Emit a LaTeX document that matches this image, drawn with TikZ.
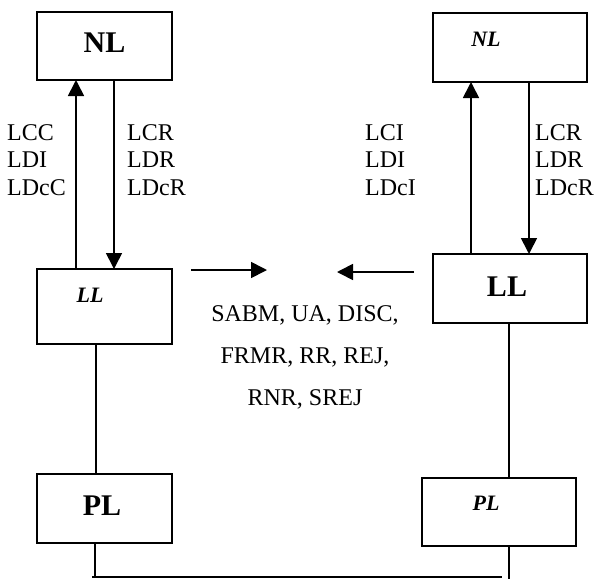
\documentclass[tikz,border=0pt]{standalone}
\usepackage{fontspec}
\setmainfont{Liberation Serif}
\usetikzlibrary{arrows.meta}
\begin{document}
\begin{tikzpicture}[x=1pt,y=-1pt,
  box/.style={draw,line width=1.8pt,inner sep=0pt,outer sep=0pt},
  arr/.style={line width=1.7pt,-{Triangle[length=16pt,width=16pt]}},
  con/.style={line width=1.4pt},
  bigb/.style={font=\fontsize{30}{30}\selectfont\bfseries,inner sep=0pt},
  itb/.style={font=\fontsize{22}{22}\selectfont\bfseries\itshape,inner sep=0pt},
  lab/.style={font=\fontsize{24}{27.5}\selectfont,align=left,inner sep=0pt,anchor=north west},
]
\useasboundingbox (0,0) rectangle (597,579);
% left stack
\node[box,minimum width=135pt,minimum height=68pt] (nlL) at (104.5,46) {};
\node[bigb] (tNLL) at (104.5,43) {NL};
\node[box,minimum width=135pt,minimum height=75pt] (llL) at (104.5,306.5) {};
\node[itb] (tLLL) at (90,295) {LL};
\node[box,minimum width=135pt,minimum height=69pt] (plL) at (104.5,508.5) {};
\node[bigb] (tPLL) at (102,505.5) {PL};
% right stack
\node[box,minimum width=154pt,minimum height=69pt] (nlR) at (510,47.5) {};
\node[itb] (tNLR) at (486,39) {NL};
\node[box,minimum width=154pt,minimum height=69pt] (llR) at (510,288.5) {};
\node[bigb] (tLLR) at (507,287) {LL};
\node[box,minimum width=154pt,minimum height=68pt] (plR) at (499,512) {};
\node[itb] (tPLR) at (486,503) {PL};
% primitives arrows
\draw[arr] ([xshift=39pt]llL.north west) -- ([xshift=39pt]nlL.south west);
\draw[arr] ([xshift=77pt]nlL.south west) -- ([xshift=77pt]llL.north west);
\draw[arr] ([xshift=38pt]llR.north west) -- ([xshift=38pt]nlR.south west);
\draw[arr] ([xshift=96pt]nlR.south west) -- ([xshift=96pt]llR.north west);
% LL-PL links
\draw[con] ([xshift=59pt]llL.south west) -- ([xshift=59pt]plL.north west);
\draw[con] ([xshift=76pt]llR.south west) -- ([xshift=87pt]plR.north west);
% physical medium
\coordinate (hl) at (92,577);
\coordinate (hr) at (502,577);
\draw[con] ([xshift=58pt]plL.south west) -- ++(0,34);
\draw[line width=1.8pt] (hl) -- (hr);
\draw[con] ([xshift=87pt]plR.south west) -- ++(0,33);
% frame arrows
\coordinate (m1) at (191,270);
\coordinate (m2) at (267,270);
\coordinate (m3) at (414,272);
\coordinate (m4) at (337,272);
\draw[arr] (m1) -- (m2);
\draw[arr] (m3) -- (m4);
% labels
\node[lab] (labL1) at (7,124) {LCC\\LDI\\LDcC};
\node[lab] (labL2) at (127,124) {LCR\\LDR\\LDcR};
\node[lab] (labR1) at (365,124) {LCI\\LDI\\LDcI};
\node[lab] (labR2) at (535,124) {LCR\\LDR\\LDcR};
\node[font=\fontsize{24}{42}\selectfont,align=center,inner sep=0pt,anchor=north] (frames) at (305,305) {SABM, UA, DISC,\\FRMR, RR, REJ,\\RNR, SREJ};
\end{tikzpicture}
\end{document}
